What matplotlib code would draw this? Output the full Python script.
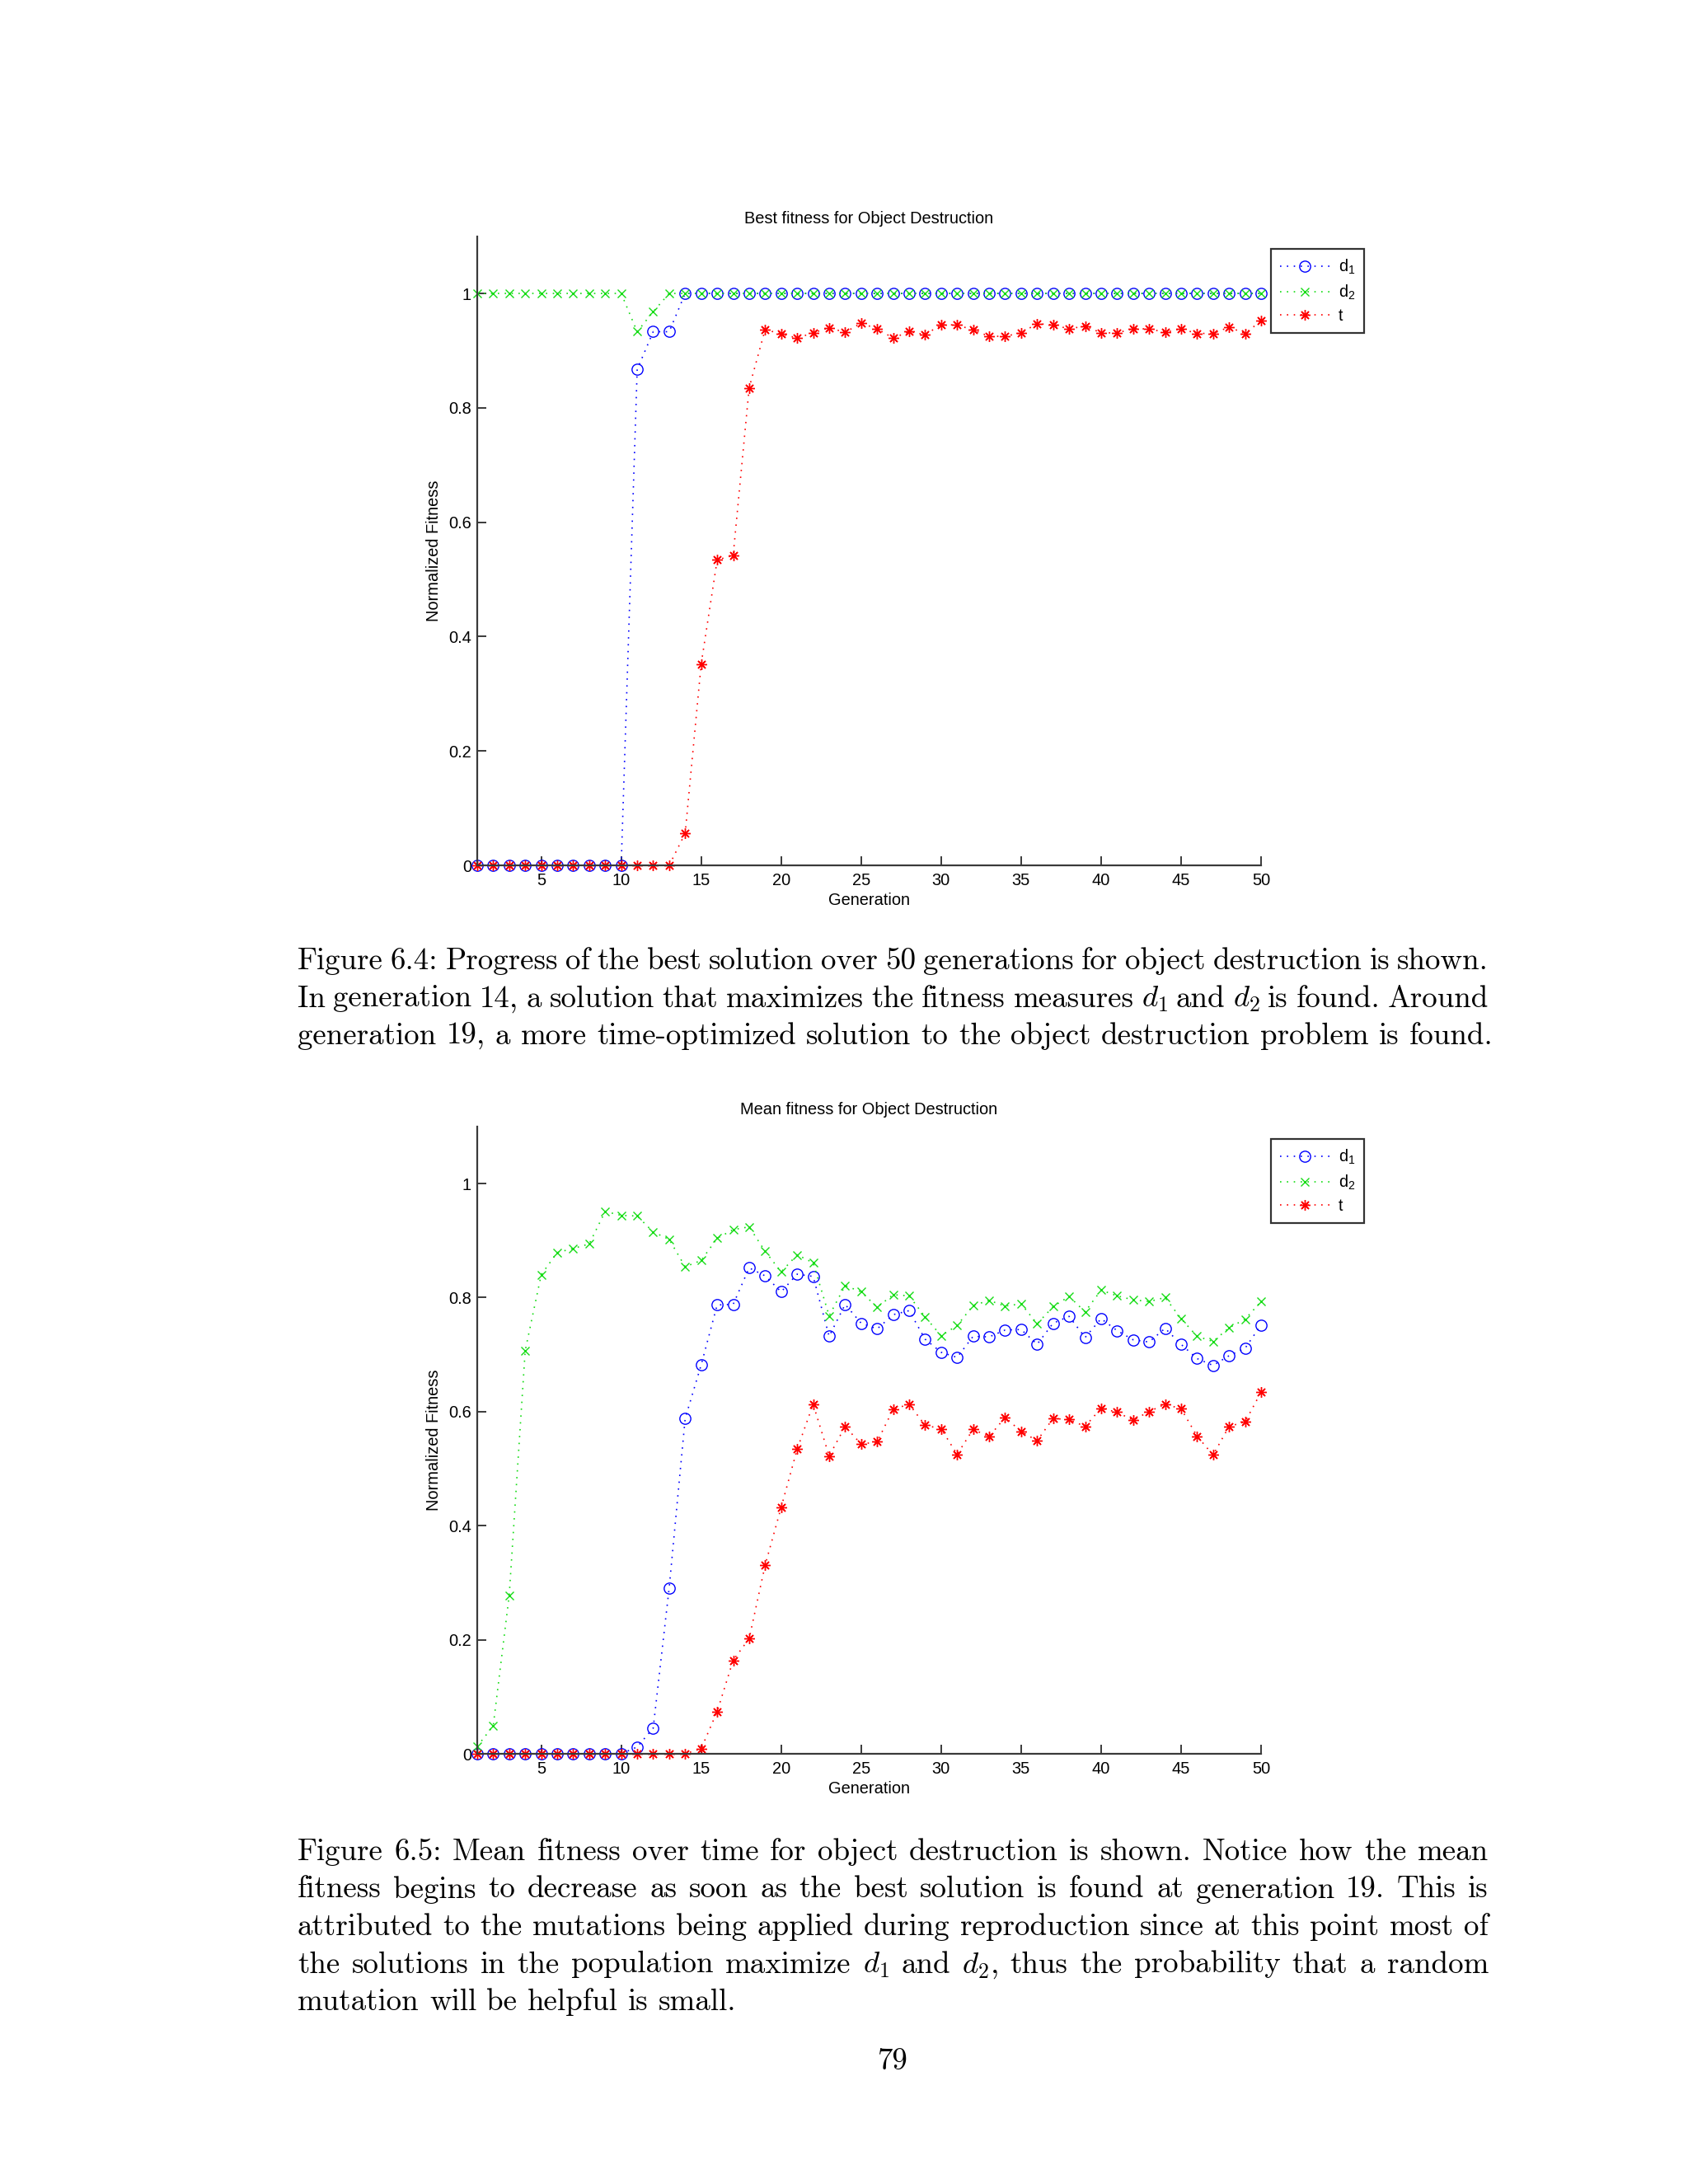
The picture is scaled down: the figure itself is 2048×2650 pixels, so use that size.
import numpy as np
import matplotlib
matplotlib.use("Agg")
import matplotlib.pyplot as plt
from matplotlib.font_manager import FontProperties

plt.rcParams['font.family'] = 'Liberation Sans'
plt.rcParams['mathtext.fontset'] = 'cm'
plt.rcParams['mathtext.rm'] = 'Liberation Sans'

W, H = 2048, 2650
DPI = 200

# DATA
generations = list(range(1, 51))

best_d1 = [0, 0, 0, 0, 0, 0, 0, 0, 0, 0,
           0.867, 0.933, 0.933, 1, 1, 1, 1, 1, 1, 1,
           1, 1, 1, 1, 1, 1, 1, 1, 1, 1,
           1, 1, 1, 1, 1, 1, 1, 1, 1, 1,
           1, 1, 1, 1, 1, 1, 1, 1, 1, 1]
best_d2 = [1, 1, 1, 1, 1, 1, 1, 1, 1, 1,
           0.933, 0.968, 1, 1, 1, 1, 1, 1, 1, 1,
           1, 1, 1, 1, 1, 1, 1, 1, 1, 1,
           1, 1, 1, 1, 1, 1, 1, 1, 1, 1,
           1, 1, 1, 1, 1, 1, 1, 1, 1, 1]
best_t = [0, 0, 0, 0, 0, 0, 0, 0, 0, 0,
          0, 0, 0, 0.056, 0.352, 0.534, 0.542, 0.835, 0.937, 0.929,
          0.922, 0.931, 0.940, 0.932, 0.948, 0.938, 0.922, 0.933, 0.928, 0.945,
          0.945, 0.936, 0.925, 0.925, 0.931, 0.947, 0.945, 0.938, 0.943, 0.931,
          0.931, 0.938, 0.938, 0.932, 0.938, 0.930, 0.930, 0.941, 0.930, 0.952]

mean_d1 = [0, 0, 0, 0, 0, 0, 0, 0, 0, 0,
           0.012, 0.045, 0.291, 0.588, 0.682, 0.787, 0.788, 0.852, 0.838, 0.810,
           0.841, 0.837, 0.732, 0.788, 0.755, 0.745, 0.770, 0.777, 0.727, 0.704,
           0.695, 0.732, 0.731, 0.743, 0.744, 0.718, 0.755, 0.767, 0.730, 0.763,
           0.742, 0.726, 0.722, 0.746, 0.718, 0.693, 0.681, 0.698, 0.711, 0.752]
mean_d2 = [0.013, 0.049, 0.278, 0.707, 0.840, 0.879, 0.886, 0.894, 0.951, 0.944,
           0.943, 0.915, 0.902, 0.854, 0.865, 0.904, 0.919, 0.924, 0.881, 0.845,
           0.875, 0.861, 0.768, 0.821, 0.810, 0.783, 0.805, 0.803, 0.766, 0.733,
           0.751, 0.786, 0.795, 0.785, 0.789, 0.754, 0.784, 0.802, 0.775, 0.813,
           0.803, 0.796, 0.793, 0.800, 0.763, 0.732, 0.723, 0.747, 0.762, 0.793]
mean_t = [0, 0, 0, 0, 0, 0, 0, 0, 0, 0,
          0, 0, 0, 0, 0.009, 0.074, 0.164, 0.202, 0.331, 0.432,
          0.534, 0.613, 0.522, 0.574, 0.543, 0.547, 0.604, 0.613, 0.576, 0.570,
          0.525, 0.569, 0.556, 0.590, 0.565, 0.549, 0.588, 0.586, 0.574, 0.606,
          0.599, 0.585, 0.600, 0.613, 0.605, 0.557, 0.524, 0.574, 0.582, 0.634]

series_labels = [r'd$_\mathrm{1}$', r'd$_\mathrm{2}$', 't']
titles = ['Best fitness for Object Destruction', 'Mean fitness for Object Destruction']
xticks = [5, 10, 15, 20, 25, 30, 35, 40, 45, 50]
yticks = [0, 0.2, 0.4, 0.6, 0.8, 1]
ytick_labels = ['0', '0.2', '0.4', '0.6', '0.8', '1']

caption1 = [
    "Figure 6.4: Progress of the best solution over 50 generations for object destruction is shown.",
    "In generation 14, a solution that maximizes the fitness measures $d_1$ and $d_2$ is found.  Around",
    "generation 19, a more time-optimized solution to the object destruction problem is found.",
]
caption2 = [
    "Figure 6.5: Mean fitness over time for object destruction is shown.  Notice how the mean",
    "fitness begins to decrease as soon as the best solution is found at generation 19.  This is",
    "attributed to the mutations being applied during reproduction since at this point most of",
    "the solutions in the population maximize $d_1$ and $d_2$, thus the probability that a random",
    "mutation will be helpful is small.",
]
page_number = '79'

# STYLE
colors = ['#0000ff', '#14dc14', '#ff0000']
markers = ['o', 'x', (8, 2, 0)]
msizes = [4.8, 3.8, 4.6]
FS = 7.2

fig = plt.figure(figsize=(W / DPI, H / DPI), dpi=DPI)
fig.patch.set_facecolor('white')


def make_axes(top_px, bottom_px, left_px=579, right_px=1530):
    # axis box in pixels, y-range 0..1.1
    y0 = bottom_px
    ytop = bottom_px - 1.1 * (bottom_px - top_px)
    return fig.add_axes([left_px / W, 1 - y0 / H, (right_px - left_px) / W, (y0 - ytop) / H])


def draw_chart(ax, series, title):
    for vals, c, m, ms, lab in zip(series, colors, markers, msizes, series_labels):
        ax.plot(generations, vals, linestyle=(0, (1, 4)), linewidth=0.6, color=c,
                marker=m, markersize=ms, markerfacecolor='none', markeredgecolor=c,
                markeredgewidth=0.5, label=lab, clip_on=False)
    ax.set_xlim(1, 50)
    ax.set_ylim(0, 1.1)
    ax.set_xticks(xticks)
    ax.set_yticks(yticks)
    ax.set_yticklabels(ytick_labels)
    for s in ['top', 'right']:
        ax.spines[s].set_visible(False)
    for s in ['left', 'bottom']:
        ax.spines[s].set_color('#3a3a3a')
        ax.spines[s].set_linewidth(0.8)
    ax.tick_params(direction='in', length=4, width=0.7, color='#3a3a3a',
                   labelsize=FS, pad=3.2)
    ax.tick_params(axis='y', pad=2.5)
    ax.set_title(title, fontsize=FS, pad=5.5)
    ax.set_xlabel('Generation', fontsize=FS, labelpad=1.8)
    ax.set_ylabel('Normalized Fitness', fontsize=FS, labelpad=3)
    leg = ax.legend(loc='upper left', bbox_to_anchor=(1.0126, 0.98), borderaxespad=0,
                    prop=FontProperties(family='Liberation Sans', size=FS, math_fontfamily='custom'),
                    fancybox=False, frameon=True, handlelength=3.0, handletextpad=0.55,
                    labelspacing=0.42, borderpad=0.55, numpoints=1)
    leg.get_frame().set_edgecolor('black')
    leg.get_frame().set_linewidth(0.8)


ax1 = make_axes(356, 1050)
draw_chart(ax1, [best_d1, best_d2, best_t], titles[0])
ax2 = make_axes(1436, 2128)
draw_chart(ax2, [mean_d1, mean_d2, mean_t], titles[1])

# captions, justified between left and right margins
CAP_FS = 13.3
LEFT, RIGHT = 361, 1806
renderer = fig.canvas.get_renderer()
space_px = CAP_FS * DPI / 72 * 0.333


def justified(line, base_px, last):
    words = line.split()
    texts = [fig.text(0, 0, w, fontsize=CAP_FS, family='cmr10', va='baseline', ha='left')
             for w in words]
    widths = [t.get_window_extent(renderer).width for t in texts]
    if last or len(words) < 2:
        gap = space_px
    else:
        gap = (RIGHT - LEFT - sum(widths)) / (len(words) - 1)
    x = LEFT
    for t, w in zip(texts, widths):
        t.set_position((x / W, 1 - base_px / H))
        x += w + gap


for i, line in enumerate(caption1):
    justified(line, 1176 + i * 45.5, i == len(caption1) - 1)
for i, line in enumerate(caption2):
    justified(line, 2257 + i * 45.5, i == len(caption2) - 1)

fig.text(1083 / W, 1 - 2511 / H, page_number, fontsize=CAP_FS, family='cmr10',
         ha='center', va='baseline')

fig.savefig('out.png', dpi=DPI, facecolor='white')
